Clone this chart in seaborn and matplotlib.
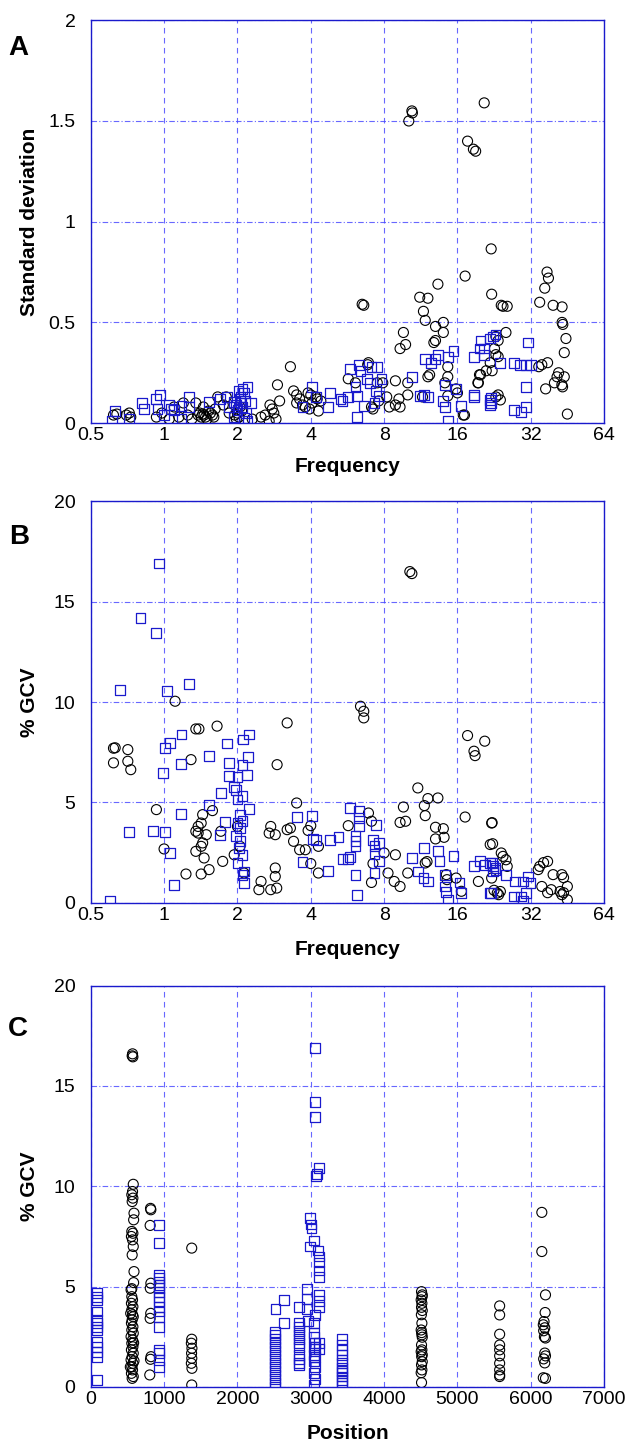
import matplotlib
matplotlib.use("Agg")
from matplotlib import pyplot as plt
import seaborn as sns
import pandas as pd

# ---- panel A: standard deviation vs frequency ----
a_circles = [
    (0.62, 0.04), (0.64, 0.045), (0.70, 0.04), (0.72, 0.05), (0.73, 0.03),
    (0.93, 0.03), (0.98, 0.05), (1.05, 0.02), (1.1, 0.08), (1.2, 0.10), (1.25, 0.04), (1.3, 0.02), (1.15, 0.03),
    (1.38, 0.04), (1.40, 0.05), (1.42, 0.03), (1.44, 0.045), (1.46, 0.04), (1.48, 0.03), (1.50, 0.02),
    (1.52, 0.06), (1.55, 0.05), (1.58, 0.04), (1.60, 0.03), (1.35, 0.10), (1.45, 0.08), (1.66, 0.13),
    (1.75, 0.09), (1.80, 0.13), (1.85, 0.05), (1.62, 0.07),
    (1.95, 0.04), (2.0, 0.05), (2.03, 0.03), (2.08, 0.06), (2.05, 0.08), (1.98, 0.02),
    (2.3, 0.02), (2.5, 0.03), (2.7, 0.01), (2.72, 0.09), (2.78, 0.07), (2.82, 0.05), (2.88, 0.02),
    (2.92, 0.19), (2.98, 0.11), (2.6, 0.04),
    (3.3, 0.28), (3.4, 0.16), (3.5, 0.14), (3.6, 0.12), (3.5, 0.10), (3.7, 0.09), (3.8, 0.08), (3.9, 0.15),
    (4.0, 0.14), (4.05, 0.10), (4.2, 0.13), (4.25, 0.12), (4.3, 0.06), (4.4, 0.11), (3.95, 0.07),
    (5.7, 0.22), (6.1, 0.20), (6.5, 0.59), (6.6, 0.585), (6.9, 0.30), (6.85, 0.29), (7.5, 0.20), (7.9, 0.20),
    (7.2, 0.07), (7.1, 0.08), (7.6, 0.11), (8.2, 0.13), (8.9, 0.21), (8.9, 0.09), (8.4, 0.08), (9.3, 0.08),
    (10.0, 0.20), (10.0, 0.14), (9.3, 0.37), (9.6, 0.45), (9.8, 0.39), (9.2, 0.12),
    (10.1, 1.50), (10.4, 1.55), (10.45, 1.54), (11.2, 0.625), (12.1, 0.62), (13.3, 0.69), (11.6, 0.555),
    (11.8, 0.51), (13.0, 0.48), (14.0, 0.50), (14.0, 0.45), (12.8, 0.40), (13.0, 0.41), (12.1, 0.23),
    (12.3, 0.24), (14.6, 0.28), (14.2, 0.20), (15.8, 0.17), (17.1, 0.04), (14.6, 0.135), (16.0, 0.15), (11.5, 0.13),
    (17.2, 0.73), (17.6, 1.40), (18.6, 1.36), (19.0, 1.35), (20.6, 1.59), (19.7, 0.24), (19.5, 0.20),
    (21.8, 0.30), (23.5, 0.41), (22.7, 0.37), (23.5, 0.14), (22.0, 0.865), (22.1, 0.64), (24.2, 0.585),
    (25.3, 0.45), (23.0, 0.43), (24.6, 0.58), (25.6, 0.58), (23.0, 0.34), (23.5, 0.33), (22.2, 0.26),
    (21.0, 0.26), (19.9, 0.24), (19.4, 0.20), (23.0, 0.13), (24.0, 0.115), (16.9, 0.04), (14.6, 0.23),
    (34.8, 0.60), (37.3, 0.75), (37.8, 0.72), (36.5, 0.67), (39.5, 0.585), (43.0, 0.577), (43.0, 0.50),
    (43.3, 0.49), (44.6, 0.42), (43.9, 0.35), (35.5, 0.29), (37.5, 0.30), (34.5, 0.28), (36.8, 0.17),
    (41.6, 0.25), (41.0, 0.23), (42.9, 0.19), (43.2, 0.18), (43.9, 0.23), (45.2, 0.045), (40.0, 0.20),
]
a_squares = [
    (0.61, 0.01), (0.63, 0.06), (0.72, 0.02), (0.81, 0.10), (0.83, 0.07), (0.94, 0.07), (0.93, 0.12),
    (0.96, 0.14), (1.0, 0.04), (1.05, 0.09), (1.07, 0.07), (1.1, 0.065), (1.18, 0.02), (1.18, 0.085),
    (1.27, 0.13), (1.27, 0.08), (1.53, 0.105), (1.7, 0.12), (1.81, 0.13), (1.85, 0.08), (1.94, 0.105),
    (1.94, 0.03), (2.0, 0.065), (2.02, 0.16), (2.06, 0.13), (2.06, 0.10), (2.1, 0.17), (2.1, 0.08),
    (2.13, 0.15), (2.13, 0.025), (2.17, 0.05), (2.2, 0.18), (2.2, 0.01), (2.27, 0.10), (2.05, 0.12),
    (2.15, 0.11), (1.98, 0.09),
    (3.7, 0.08), (4.06, 0.18), (4.2, 0.13), (4.7, 0.08), (4.8, 0.15), (5.3, 0.12), (5.4, 0.11), (5.7, 0.13),
    (5.8, 0.27), (6.3, 0.29), (6.4, 0.26), (7.1, 0.28), (7.5, 0.28), (6.8, 0.22), (7.0, 0.20), (6.1, 0.18),
    (6.2, 0.135), (6.6, 0.086), (7.3, 0.10), (7.6, 0.135), (6.2, 0.03), (7.8, 0.22), (7.4, 0.16),
    (10.4, 0.23), (11.8, 0.32), (12.5, 0.30), (13.3, 0.34), (14.6, 0.33), (15.4, 0.36), (14.2, 0.19),
    (15.8, 0.17), (12.1, 0.13), (14.0, 0.11), (14.2, 0.08), (16.6, 0.086), (14.6, 0.01), (18.7, 0.14),
    (19.7, 0.37), (20.5, 0.37), (21.8, 0.42), (22.3, 0.43), (22.9, 0.44), (22.0, 0.10), (22.0, 0.127),
    (11.2, 0.135), (11.7, 0.14), (13.0, 0.32),
    (31.1, 0.40), (27.2, 0.30), (28.8, 0.29), (30.6, 0.29), (32.1, 0.29), (30.6, 0.18), (27.2, 0.065),
    (29.2, 0.056), (30.6, 0.08), (18.7, 0.13), (21.8, 0.115), (21.8, 0.09), (19.9, 0.41), (18.7, 0.33),
    (20.5, 0.34), (24.0, 0.30),
]

# ---- panel B: %GCV vs frequency ----
b_circles = [
    (1.11, 10.04), (1.35, 8.66), (1.39, 8.66), (1.65, 8.8), (0.62, 7.7), (0.63, 7.72), (0.71, 7.63),
    (0.62, 6.97), (0.71, 7.05), (0.73, 6.63), (1.29, 7.13), (2.91, 6.88), (3.2, 8.96), (0.93, 4.64),
    (1.0, 2.68), (1.44, 4.39), (1.58, 4.59), (1.42, 3.97), (1.38, 3.8), (1.35, 3.56), (1.38, 3.47),
    (1.49, 3.39), (1.44, 2.98), (1.42, 2.81), (1.35, 2.56), (1.46, 2.23), (1.53, 1.65), (1.42, 1.43),
    (1.23, 1.43), (1.74, 2.06), (1.71, 3.56), (1.94, 2.39), (2.0, 3.8), (2.05, 2.81), (2.13, 1.48),
    (2.5, 1.06), (2.45, 0.65), (2.74, 0.65), (2.9, 0.73), (2.86, 1.73), (2.86, 1.31), (2.74, 3.8),
    (2.7, 3.47), (2.86, 3.39), (3.2, 3.64),
    (10.2, 16.5), (10.4, 16.4), (6.4, 9.79), (6.6, 9.54), (6.6, 9.21), (17.6, 8.33), (20.7, 8.05),
    (18.7, 7.55), (18.9, 7.33), (11.0, 5.72), (12.1, 5.19), (13.3, 5.22), (11.7, 4.84), (9.6, 4.77),
    (11.8, 4.34), (17.2, 4.27), (22.1, 3.97), (9.3, 4.0), (9.8, 4.06), (13.0, 3.76), (14.0, 3.69),
    (13.0, 3.18), (14.1, 3.26), (22.3, 2.94), (5.7, 3.84), (6.9, 4.47), (7.1, 4.06), (3.5, 4.97),
    (3.3, 3.72), (4.0, 3.84), (3.9, 3.6), (3.4, 3.06), (3.6, 2.64), (3.8, 2.64), (4.3, 2.81), (4.0, 1.95),
    (4.3, 1.48), (7.2, 1.95), (7.1, 1.01), (8.0, 2.48), (8.9, 2.39), (8.3, 1.48), (8.8, 1.06), (9.3, 0.81),
    (10.0, 1.48), (11.8, 1.98), (12.0, 2.05), (14.4, 1.4), (14.5, 1.15), (15.8, 1.23), (16.6, 0.57),
    (19.5, 1.06), (22.1, 1.23), (22.6, 0.62), (23.3, 0.48), (24.2, 2.48),
    (34.8, 1.81), (36.1, 2.0), (37.5, 2.06), (34.3, 1.65), (39.5, 1.4), (35.5, 0.81), (37.5, 0.5),
    (38.8, 0.65), (42.9, 1.4), (43.6, 1.25), (42.2, 0.56), (43.6, 0.5), (45.2, 0.81), (45.2, 0.15),
    (42.9, 0.4), (24.6, 2.31), (25.3, 2.14), (25.6, 1.81), (24.0, 0.56), (23.6, 0.4), (21.8, 2.9), (22.2, 3.99),
]
b_squares = [
    (0.95, 16.9), (0.8, 14.2), (0.93, 13.45), (0.66, 10.6), (1.03, 10.55), (1.27, 10.9), (1.18, 8.38),
    (1.06, 7.96), (1.01, 7.7), (1.17, 6.92), (0.99, 6.47), (1.53, 7.33), (1.81, 7.93), (2.11, 8.13),
    (2.23, 8.38), (2.21, 7.27), (1.85, 6.97), (2.1, 6.88), (2.0, 6.27), (2.19, 6.38), (1.85, 6.33),
    (1.93, 5.77), (1.97, 5.6), (2.0, 5.14), (2.1, 5.3), (1.71, 5.47), (1.53, 4.87), (1.17, 4.42),
    (2.23, 4.67), (2.05, 4.39), (2.1, 4.06), (2.0, 3.97), (2.05, 3.72), (1.78, 4.02), (1.69, 3.39),
    (1.97, 3.31), (2.05, 3.06), (2.03, 2.73), (2.1, 2.39), (2.0, 1.98), (2.13, 1.56), (2.1, 1.4),
    (2.13, 0.98), (0.72, 3.52), (0.9, 3.59), (1.01, 3.52), (1.06, 2.48), (1.1, 0.9), (0.6, 0.07),
    (3.5, 4.27), (4.06, 4.34), (4.1, 3.18), (4.2, 3.14), (4.8, 3.14), (5.2, 3.26), (5.4, 2.18), (5.7, 2.18),
    (5.8, 2.28), (5.8, 4.72), (6.3, 4.59), (6.3, 4.22), (6.3, 3.81), (6.1, 3.34), (6.1, 3.06), (6.1, 2.81),
    (7.2, 3.14), (7.4, 3.89), (7.6, 2.98), (7.3, 2.81), (7.3, 2.44), (7.6, 2.06), (7.3, 1.48), (6.1, 1.4),
    (4.7, 1.6), (6.2, 0.4), (3.7, 2.03), (10.4, 2.23), (11.0, 1.56), (11.6, 1.23), (12.1, 1.06),
    (11.7, 2.73), (13.3, 2.56), (13.5, 2.06), (15.4, 2.31), (14.2, 1.4), (14.2, 0.81), (14.4, 0.52),
    (14.6, 0.15), (16.3, 1.01), (16.6, 0.48), (18.7, 1.81), (19.8, 2.06), (20.7, 1.9), (21.8, 1.98),
    (22.3, 1.81), (22.9, 1.73), (22.0, 0.48), (22.3, 1.56),
    (31.1, 1.31), (29.8, 1.06), (31.9, 1.0), (27.6, 1.06), (27.2, 0.31), (29.2, 0.31), (29.8, 0.1),
    (30.6, 0.5), (25.3, 1.4), (22.2, 2.0), (22.9, 1.65), (21.8, 0.5),
]

# ---- panel C: %GCV vs position ----
c_circles = [
    (570, 16.6), (575, 16.45), (565, 16.5),
    (580, 10.1), (570, 9.74), (560, 9.58), (575, 9.41), (565, 9.24), (590, 8.66), (585, 8.33), (560, 7.75),
    (575, 7.66), (555, 7.5), (570, 7.33), (580, 7.0), (565, 6.58), (590, 5.75), (585, 5.2), (550, 4.84),
    (560, 4.5), (570, 4.34), (555, 4.17), (575, 4.0), (560, 3.84), (545, 3.67), (580, 3.5), (565, 3.34),
    (555, 3.18), (575, 3.0), (560, 2.84), (580, 2.68), (550, 2.51), (570, 2.34), (560, 2.18), (575, 2.0),
    (555, 1.85), (580, 1.68), (565, 1.51), (550, 1.35), (575, 1.18), (560, 1.01), (570, 0.85), (555, 0.68),
    (580, 0.52), (565, 0.43), (590, 1.3), (540, 1.0), (585, 2.2), (570, 3.6), (560, 4.9),
    (815, 8.9), (820, 8.83), (810, 8.05), (820, 5.17), (812, 4.92), (818, 3.67), (810, 3.42),
    (822, 1.51), (815, 1.38), (805, 0.6),
    (1377, 6.92), (1377, 2.38), (1372, 2.18), (1380, 1.93), (1375, 1.68), (1378, 1.43), (1372, 1.18),
    (1380, 0.93), (1377, 0.1),
    (4510, 4.75), (4520, 4.59), (4505, 4.34), (4515, 4.17), (4510, 3.97), (4520, 3.81), (4515, 3.18),
    (4505, 2.84), (4512, 2.71), (4520, 2.48), (4510, 2.09), (4515, 1.85), (4505, 1.76), (4512, 1.51),
    (4520, 1.26), (4510, 1.1), (4515, 0.85), (4505, 0.71), (4510, 0.22), (4518, 4.5), (4508, 3.6),
    (4515, 2.6), (4520, 1.6),
    (5575, 4.04), (5575, 3.59), (5575, 2.63), (5575, 2.09), (5575, 1.85), (5575, 1.55), (5575, 1.18),
    (5575, 0.85), (5575, 0.6), (5575, 0.52),
    (6150, 8.7), (6150, 6.75), (6200, 4.59), (6195, 3.71), (6180, 3.26), (6170, 3.1), (6190, 2.95),
    (6175, 2.8), (6185, 2.5), (6200, 2.44), (6190, 1.69), (6200, 1.55), (6175, 1.4), (6190, 1.2),
    (6170, 0.46), (6200, 0.43),
]
c_squares = [
    (81, 4.7), (81, 4.5), (81, 4.34), (81, 3.76), (81, 3.34), (81, 3.18), (81, 3.0), (81, 2.84),
    (81, 2.26), (81, 2.0), (81, 1.76), (81, 1.51), (81, 0.35),
    (930, 8.08), (930, 7.17), (930, 5.59), (930, 5.42), (930, 5.25), (930, 5.09), (930, 4.92), (930, 4.75),
    (930, 4.5), (930, 4.26), (930, 4.0), (930, 3.76), (930, 3.5), (930, 3.0), (930, 1.85), (930, 1.68),
    (930, 1.35), (930, 1.01),
    (2520, 3.87), (2640, 4.34), (2640, 3.18),
    (2510, 2.76), (2510, 2.6), (2510, 2.4), (2510, 2.2), (2510, 2.0), (2510, 1.8), (2510, 1.6), (2510, 1.4),
    (2510, 1.2), (2510, 1.0), (2510, 0.8), (2510, 0.6), (2510, 0.4), (2510, 0.2), (2510, 0.0),
    (2840, 4.0), (2840, 3.2), (2840, 3.0), (2840, 2.8), (2840, 2.6), (2840, 2.4), (2840, 2.2), (2840, 2.0),
    (2840, 1.6), (2840, 1.4), (2840, 1.2), (2840, 1.1),
    (2950, 4.9), (2950, 4.4), (2950, 3.9), (2960, 3.3),
    (3060, 16.9), (3060, 14.2), (3060, 13.45), (3080, 10.6), (3070, 10.5), (3110, 10.9),
    (2990, 8.4), (3000, 8.1), (3010, 7.9), (3040, 7.3), (2990, 7.0), (3100, 6.8), (3110, 6.5),
    (3110, 6.2), (3110, 5.8), (3110, 5.5), (3110, 4.6), (3110, 4.3), (3110, 4.0), (3060, 3.6), (3040, 3.2),
    (3040, 2.7), (3040, 2.5), (3060, 2.2), (3040, 2.0), (3060, 1.9), (3040, 1.6), (3060, 1.5), (3040, 1.3),
    (3060, 1.0), (3040, 0.7), (3060, 0.4), (3040, 0.1), (3110, 2.2), (3110, 1.9),
    (3430, 2.38), (3430, 2.09), (3430, 1.85), (3430, 1.6), (3430, 1.35), (3430, 1.18), (3430, 0.93),
    (3430, 0.81), (3430, 0.68), (3430, 0.52), (3430, 0.35), (3430, 0.18), (3430, 0.05),
]

freq_ticks = [0.5, 1, 2, 4, 8, 16, 32, 64]
freq_labels = ["0.5", "1", "2", "4", "8", "16", "32", "64"]
sd_ticks = [0, 0.5, 1, 1.5, 2]
sd_labels = ["0", "0.5", "1", "1.5", "2"]
gcv_ticks = [0, 5, 10, 15, 20]
pos_ticks = [0, 1000, 2000, 3000, 4000, 5000, 6000, 7000]

sns.set_style("white")
plt.rcParams['font.family'] = ['Liberation Sans', 'DejaVu Sans']
plt.rcParams['text.color'] = 'black'
plt.rcParams['axes.labelcolor'] = 'black'
plt.rcParams['xtick.color'] = 'black'
plt.rcParams['ytick.color'] = 'black'

BLUE = "#1a1acc"
GRID = "#4d4dff"


def to_df(pairs, xname, yname):
    return pd.DataFrame(pairs, columns=[xname, yname])


def draw(ax, circles, squares, xname, yname):
    dc = to_df(circles, xname, yname)
    ds = to_df(squares, xname, yname)
    sns.scatterplot(data=dc, x=xname, y=yname, ax=ax, marker="o", s=52,
                    facecolor="none", edgecolor="black", linewidth=0.8, zorder=3)
    sns.scatterplot(data=ds, x=xname, y=yname, ax=ax, marker="s", s=50,
                    facecolor="none", edgecolor=BLUE, linewidth=0.9, zorder=4)


def style(ax, xlab, ylab, xlab_y):
    ax.xaxis.grid(True, color=GRID, linestyle=(0, (5, 4)), linewidth=0.8, alpha=0.85)
    ax.yaxis.grid(True, color=GRID, linestyle=(0, (5, 2, 1, 2)), linewidth=0.8, alpha=0.85)
    for sp in ax.spines.values():
        sp.set_color(BLUE)
        sp.set_linewidth(1.0)
        sp.set_visible(True)
    ax.tick_params(axis="x", length=0, pad=3, labelsize=14, labelcolor="black")
    ax.tick_params(axis="y", length=0, pad=11, labelsize=14, labelcolor="black")
    ax.set_xlabel(xlab, fontsize=15, fontweight="bold", color="black")
    ax.set_ylabel(ylab, fontsize=15, fontweight="bold", color="black")
    ax.xaxis.set_label_coords(0.5, xlab_y)
    ax.yaxis.set_label_coords(-0.1, 0.5)


fig = plt.figure(figsize=(6.3, 14.49), dpi=100)
left, width = 0.144, 0.815
axA = fig.add_axes([left, 0.708, width, 0.278])
axB = fig.add_axes([left, 0.377, width, 0.277])
axC = fig.add_axes([left, 0.0428, width, 0.277])

draw(axA, a_circles, a_squares, "freq", "sd")
axA.set_xscale("log", base=2)
axA.set_xlim(0.5, 64)
axA.set_ylim(0, 2)
axA.set_xticks(freq_ticks, freq_labels)
axA.set_yticks(sd_ticks, sd_labels)
style(axA, "Frequency", "Standard deviation", -0.085)

draw(axB, b_circles, b_squares, "freq", "gcv")
axB.set_xscale("log", base=2)
axB.set_xlim(0.5, 64)
axB.set_ylim(0, 20)
axB.set_xticks(freq_ticks, freq_labels)
axB.set_yticks(gcv_ticks, [str(t) for t in gcv_ticks])
style(axB, "Frequency", "% GCV", -0.092)

draw(axC, c_circles, c_squares, "pos", "gcv")
axC.set_xlim(0, 7000)
axC.set_ylim(0, 20)
axC.set_xticks(pos_ticks, [str(t) for t in pos_ticks])
axC.set_yticks(gcv_ticks, [str(t) for t in gcv_ticks])
style(axC, "Position", "% GCV", -0.093)

for ax in (axA, axB, axC):
    ax.minorticks_off()
    lg = ax.get_legend()
    if lg is not None:
        lg.remove()

fig.text(0.029, 1 - 48 / 1449, "A", fontsize=20, fontweight="bold", ha="center", va="center", color="black")
fig.text(0.030, 1 - 537 / 1449, "B", fontsize=20, fontweight="bold", ha="center", va="center", color="black")
fig.text(0.029, 1 - 1029 / 1449, "C", fontsize=20, fontweight="bold", ha="center", va="center", color="black")

fig.savefig("out.png", dpi=100)
